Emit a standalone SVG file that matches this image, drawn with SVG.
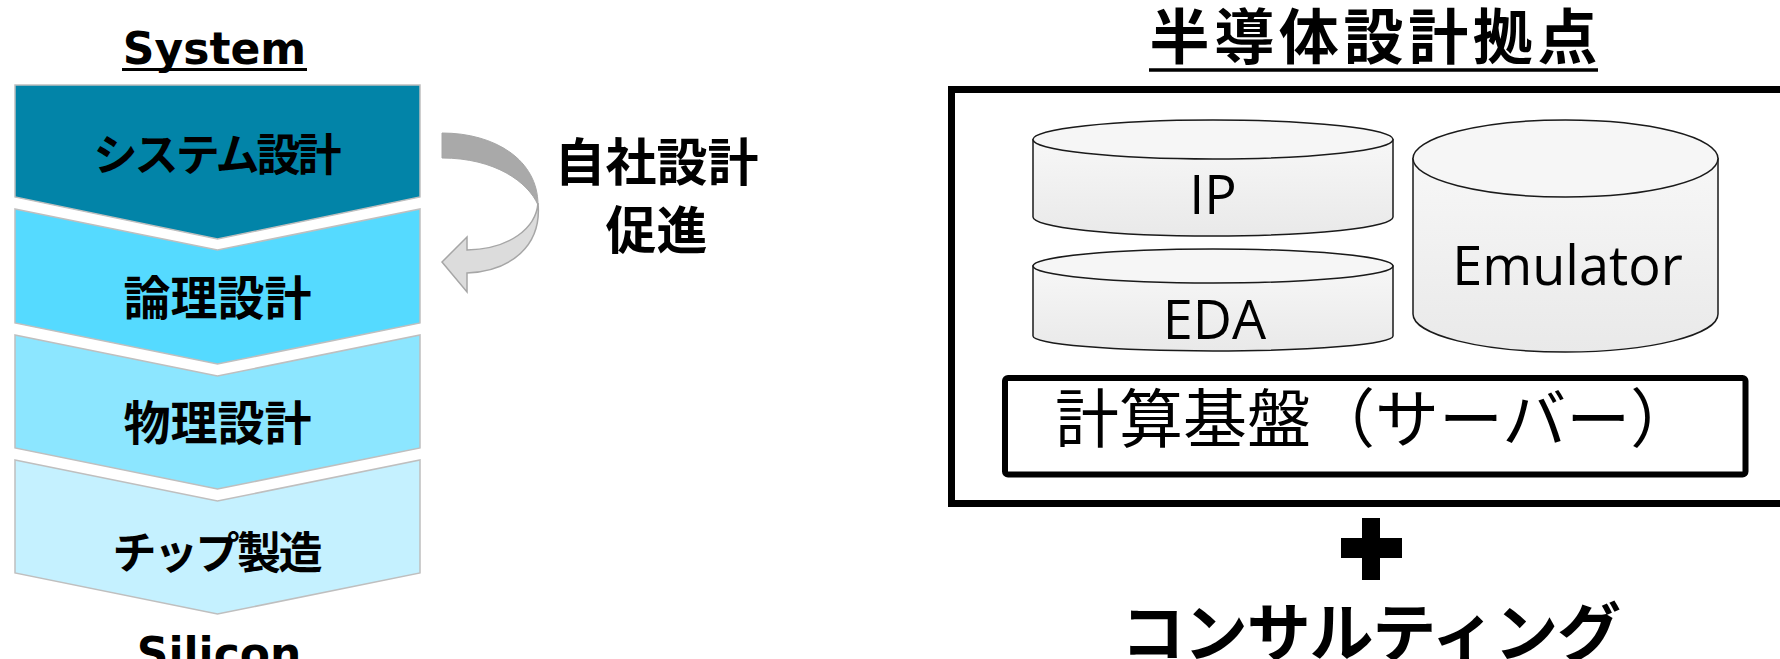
<svg xmlns="http://www.w3.org/2000/svg" width="1780" height="659" viewBox="0 0 1780 659">
<defs>
<style>
.chev{stroke:#BFBFBF;stroke-width:1.5}
.jpb{font-family:"Noto Sans CJK JP","Noto Sans CJK SC",sans-serif;font-weight:700;fill:#000}
.jpr{font-family:"Noto Sans CJK JP","Noto Sans CJK SC",sans-serif;font-weight:400;fill:#000}
.enb{font-family:"DejaVu Sans",sans-serif;font-weight:700;fill:#000}
.cyl{fill:url(#cylg);stroke:#1a1a1a;stroke-width:1.5}
.cyltop{fill:#F6F6F6;stroke:#1a1a1a;stroke-width:1.5}
.lbl{font-family:"Open Sans","Noto Sans",sans-serif;font-size:54px;fill:#000;text-anchor:middle}
</style>
<linearGradient id="cylg" x1="0" y1="0" x2="0" y2="1">
<stop offset="0" stop-color="#F7F7F7"/>
<stop offset="1" stop-color="#E9E9E9"/>
</linearGradient>
</defs>
<rect width="1780" height="659" fill="#fff"/>

<g id="left-title">
<text class="enb" x="214.5" y="64" font-size="44" text-anchor="middle">System</text>
<line x1="122" y1="69.5" x2="307" y2="69.5" stroke="#000" stroke-width="3"/>
</g>

<g id="step-system">
<path class="chev" fill="#0284A8" d="M15,85 L420,85 L420,197 L217.5,239 L15,197 Z"/>
<text class="jpb" x="217.5" y="171" font-size="44" text-anchor="middle" textLength="248" lengthAdjust="spacing">システム設計</text>
</g>
<g id="step-logic">
<path class="chev" fill="#55DAFF" d="M15,209 L217.5,250 L420,209 L420,323 L217.5,364 L15,323 Z"/>
<text class="jpb" x="217.5" y="315" font-size="47" text-anchor="middle">論理設計</text>
</g>
<g id="step-physical">
<path class="chev" fill="#8CE6FF" d="M15,335 L217.5,376 L420,335 L420,448 L217.5,489 L15,448 Z"/>
<text class="jpb" x="217.5" y="440" font-size="47" text-anchor="middle">物理設計</text>
</g>
<g id="step-chip">
<path class="chev" fill="#C5F1FF" d="M15,460 L217.5,501 L420,460 L420,573 L217.5,614 L15,573 Z"/>
<text class="jpb" x="217.5" y="569" font-size="44" text-anchor="middle" textLength="210" lengthAdjust="spacing">チップ製造</text>
</g>
<g id="left-bottom">
<text class="enb" x="219" y="669" font-size="44" text-anchor="middle">Silicon</text>
</g>

<g id="connectors">
<path d="M442,133 C495,133 538,160 538,205 C528,182 495,158 442,158 Z" fill="#A9A9A9" stroke="#A6A6A6" stroke-width="1"/>
<path d="M538,203 C536,228 510,249 467,250 L467,237 L442,262 L467,292 L467,273 C512,271 542,245 538,203 Z" fill="#DCDCDC" stroke="#A6A6A6" stroke-width="1.5" stroke-linejoin="miter"/>
</g>

<g id="promote-label">
<text class="jpb" x="656.5" y="181" font-size="51" text-anchor="middle">自社設計</text>
<text class="jpb" x="656.5" y="249" font-size="51" text-anchor="middle">促進</text>
</g>

<g id="right-title">
<text class="jpb" x="1373.5" y="59" font-size="60" text-anchor="middle" textLength="448" lengthAdjust="spacing">半導体設計拠点</text>
<line x1="1149" y1="70" x2="1598" y2="70" stroke="#000" stroke-width="3.5"/>
</g>

<g id="design-hub">
<rect x="951.5" y="89.5" width="900" height="414" fill="none" stroke="#000" stroke-width="7"/>
</g>

<g id="ip">
<path class="cyl" d="M1033,139.5 L1033,217 A180,19 0 0 0 1393,217 L1393,139.5 Z"/>
<ellipse class="cyltop" cx="1213" cy="139.5" rx="180" ry="19.5"/>
<text class="lbl" x="1213" y="214">IP</text>
</g>
<g id="eda">
<path class="cyl" d="M1033,266 L1033,336 A180,15 0 0 0 1393,336 L1393,266 Z"/>
<ellipse class="cyltop" cx="1213" cy="266" rx="180" ry="17"/>
<text class="lbl" x="1214.5" y="339">EDA</text>
</g>
<g id="emulator">
<path class="cyl" d="M1413,158.5 L1413,314 A152.5,38 0 0 0 1718,314 L1718,158.5 Z"/>
<ellipse class="cyltop" cx="1565.5" cy="158.5" rx="152.5" ry="38.5"/>
<text class="lbl" x="1567.5" y="285">Emulator</text>
</g>
<g id="server">
<rect x="1005" y="378" width="740.5" height="96.5" rx="3" fill="none" stroke="#000" stroke-width="6"/>
<text class="jpr" x="1055" y="442" font-size="64">計算基盤（サーバー）</text>
</g>

<g id="plus">
<rect x="1362" y="518" width="18" height="62" fill="#000"/>
<rect x="1341" y="538" width="61" height="20" fill="#000"/>
</g>
<g id="consulting">
<text class="jpb" x="1371" y="656" font-size="64" text-anchor="middle" textLength="500" lengthAdjust="spacing">コンサルティング</text>
</g>
</svg>
